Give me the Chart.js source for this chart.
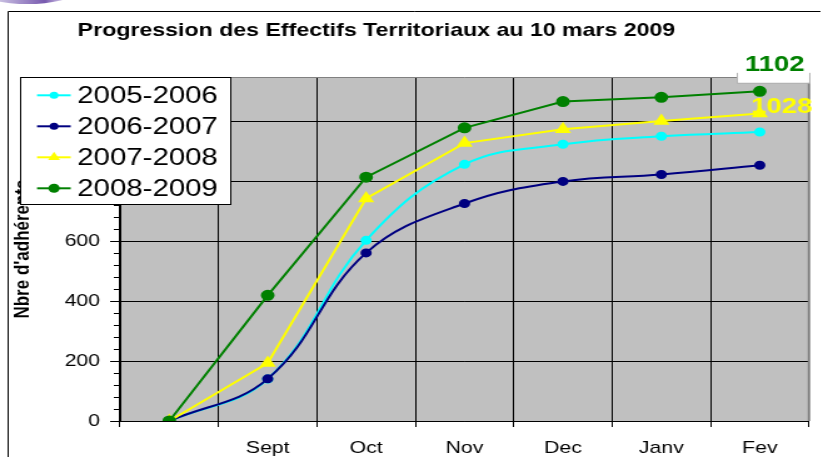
<!DOCTYPE html>
<html>
<head>
<meta charset="utf-8">
<script src="https://cdn.jsdelivr.net/npm/chart.js@4.4.1/dist/chart.umd.min.js"></script>
<style>
  html, body { margin: 0; padding: 0; background: #fff; overflow: hidden; width: 828px; height: 457px; }
  #wrap { position: absolute; left: 0; top: 0; width: 662px; height: 457px; transform: scaleX(1.250755); transform-origin: 0 0; }
  canvas { display: block; }
</style>
</head>
<body>
<div id="wrap"><canvas id="c" width="662" height="457"></canvas></div>
<script>
// ---- data ----
const categories = ['', 'Sept', 'Oct', 'Nov', 'Dec', 'Janv', 'Fev'];
const seriesNames = ['2005-2006', '2006-2007', '2007-2008', '2008-2009'];
const s2005_2006 = [0, 140, 604, 858, 925, 952, 966];
const s2006_2007 = [0, 141, 562, 727, 801, 824, 855];
const s2007_2008 = [0, 194, 744, 929, 975, 1003, 1028];
const s2008_2009 = [0, 420, 815, 980, 1068, 1082, 1102];
const yMajorTicks = [0, 200, 400, 600, 800, 1000];
const yMinorStep = 40;
const yMax = 1150;
const chartTitle = 'Progression des Effectifs Territoriaux au 10 mars 2009';
const yAxisTitle = "Nbre d'adhérents";

const FONT = "'Liberation Sans', Arial, Helvetica, sans-serif";

// minor + major tick values
const yTickValues = [];
for (let v = 0; v <= yMax; v += yMinorStep) yTickValues.push(v);
const isMajor = v => yMajorTicks.indexOf(v) !== -1;

const bgPlugin = {
  id: 'bg',
  beforeDraw(chart) {
    const ctx = chart.ctx, a = chart.chartArea;
    ctx.save();
    // decorative purple swoosh top-left
    const g = ctx.createLinearGradient(0, 0, 60, 0);
    g.addColorStop(0, 'rgba(200,190,225,1)');
    g.addColorStop(0.6, 'rgba(120,90,175,1)');
    g.addColorStop(1, 'rgba(150,120,200,0)');
    ctx.fillStyle = g;
    ctx.beginPath();
    ctx.ellipse(22, -7, 36, 11, 0, 0, Math.PI * 2);
    ctx.fill();
    // outer frame
    ctx.strokeStyle = '#000';
    ctx.lineWidth = 1;
    ctx.beginPath();
    ctx.moveTo(6.5, 460);
    ctx.lineTo(6.5, 11.5);
    ctx.lineTo(656, 11.5);
    ctx.stroke();
    // plot area fill
    ctx.fillStyle = '#C0C0C0';
    ctx.fillRect(a.left, a.top, a.right - a.left, a.bottom - a.top);
    ctx.restore();
  },
  beforeDatasetsDraw(chart) {
    const ctx = chart.ctx, a = chart.chartArea;
    ctx.save();
    ctx.strokeStyle = '#808080';
    ctx.lineWidth = 1;
    ctx.beginPath();
    ctx.moveTo(a.left, a.top + 0.5);
    ctx.lineTo(a.right, a.top + 0.5);
    ctx.stroke();
    ctx.lineWidth = 2;
    ctx.beginPath();
    ctx.moveTo(a.right, a.top);
    ctx.lineTo(a.right, a.bottom);
    ctx.stroke();
    ctx.restore();
  },
  afterDatasetsDraw(chart) {
    const ctx = chart.ctx;
    ctx.save();
    // label for 2008-2009 last value
    const gm = chart.getDatasetMeta(3);
    const gi = s2008_2009.length - 1;
    const gp = gm.data[gi];
    const bx = gp.x - 18.4, by = gp.y - 46, bw = 58.4, bh = 37.5;
    ctx.fillStyle = '#fff';
    ctx.fillRect(bx, by, bw, bh);
    ctx.strokeStyle = '#b0b0b0';
    ctx.lineWidth = 1;
    ctx.beginPath();
    ctx.moveTo(bx + 0.5, by + bh - 10);
    ctx.lineTo(bx + 0.5, by + bh + 0.5);
    ctx.lineTo(bx + bw, by + bh + 0.5);
    ctx.lineTo(bx + bw, by + bh - 10);
    ctx.stroke();
    ctx.font = 'bold 22px ' + FONT;
    ctx.textAlign = 'center';
    ctx.textBaseline = 'middle';
    ctx.fillStyle = '#008000';
    ctx.fillText(String(s2008_2009[gi]), gp.x + 12, gp.y - 26);
    // label for 2007-2008 last value
    const ym = chart.getDatasetMeta(2);
    const yi = s2007_2008.length - 1;
    const yp = ym.data[yi];
    ctx.fillStyle = '#FFFF00';
    ctx.fillText(String(s2007_2008[yi]), yp.x + 17.6, yp.y - 7);
    ctx.restore();
  },
  afterDraw(chart) {
    const ctx = chart.ctx;
    ctx.save();
    // title
    ctx.font = 'bold 18.5px ' + FONT;
    ctx.fillStyle = '#000';
    ctx.textAlign = 'center';
    ctx.textBaseline = 'middle';
    ctx.fillText(chartTitle, 301, 31);
    // legend box
    const L = { x: 16, y: 77, w: 168, h: 127 };
    ctx.fillStyle = '#fff';
    ctx.fillRect(L.x, L.y, L.w, L.h);
    ctx.strokeStyle = '#000';
    ctx.lineWidth = 1;
    ctx.strokeRect(L.x + 0.5, L.y + 0.5, L.w, L.h);
    chart.data.datasets.forEach((ds, i) => {
      const y = 95.3 + i * 31;
      ctx.strokeStyle = ds.borderColor;
      ctx.lineWidth = 2;
      ctx.beginPath();
      ctx.moveTo(29.6, y);
      ctx.lineTo(56.5, y);
      ctx.stroke();
      ctx.fillStyle = ds.backgroundColor;
      ctx.beginPath();
      const mx = 43.2, r = ds.pointRadius;
      if (ds.pointStyle === 'triangle') {
        ctx.moveTo(mx, y - r);
        ctx.lineTo(mx + r * 0.866, y + r * 0.5);
        ctx.lineTo(mx - r * 0.866, y + r * 0.5);
        ctx.closePath();
      } else {
        ctx.arc(mx, y, r, 0, Math.PI * 2);
      }
      ctx.fill();
      ctx.font = '23.5px ' + FONT;
      ctx.fillStyle = '#000';
      ctx.textAlign = 'left';
      ctx.textBaseline = 'middle';
      ctx.fillText(ds.label, 61.8, y + 1);
    });
    ctx.restore();
  }
};

new Chart(document.getElementById('c'), {
  type: 'line',
  data: {
    labels: categories,
    datasets: [
      { label: seriesNames[0], data: s2005_2006, borderColor: '#00FFFF', backgroundColor: '#00FFFF',
        borderWidth: 2, pointRadius: 3.5, pointStyle: 'circle', tension: 0.4, order: 4 },
      { label: seriesNames[1], data: s2006_2007, borderColor: '#000080', backgroundColor: '#000080',
        borderWidth: 2, pointRadius: 3.5, pointStyle: 'circle', tension: 0.4, order: 3 },
      { label: seriesNames[2], data: s2007_2008, borderColor: '#FFFF00', backgroundColor: '#FFFF00',
        borderWidth: 2, pointRadius: 5.5, pointStyle: 'triangle', tension: 0, order: 2 },
      { label: seriesNames[3], data: s2008_2009, borderColor: '#008000', backgroundColor: '#008000',
        borderWidth: 2, pointRadius: 4.5, pointStyle: 'circle', tension: 0, order: 1 }
    ]
  },
  options: {
    responsive: false,
    animation: false,
    events: [],
    layout: { padding: { left: 8, right: 15.2, top: 77, bottom: 0 } },
    plugins: { legend: { display: false }, title: { display: false }, tooltip: { enabled: false } },
    scales: {
      x: {
        type: 'category',
        offset: true,
        grid: { offset: true, color: '#000', lineWidth: 1, tickLength: 6, tickColor: '#000' },
        border: { color: '#000', width: 1 },
        ticks: { font: { family: FONT, size: 17 }, color: '#000', padding: 11, maxRotation: 0, autoSkip: false },
        afterFit: s => { s.height = 36; }
      },
      y: {
        min: 0,
        max: yMax,
        afterBuildTicks: s => { s.ticks = yTickValues.map(v => ({ value: v })); },
        grid: {
          color: c => (c.tick && isMajor(c.tick.value)) ? '#000' : 'rgba(0,0,0,0)',
          lineWidth: 1,
          tickColor: '#000',
          tickLength: 8,
          tickBorderDash: c => (c.tick && !isMajor(c.tick.value)) ? [5, 3] : [],
          tickBorderDashOffset: c => (c.tick && !isMajor(c.tick.value)) ? 5 : 0
        },
        border: { color: '#000', width: 1 },
        ticks: {
          font: { family: FONT, size: 17 }, color: '#000', padding: 8, autoSkip: false,
          callback: v => isMajor(v) ? String(v) : ''
        },
        title: { display: true, text: yAxisTitle, color: '#000', padding: 0,
                 font: { family: FONT, size: 17, weight: 'bold' } },
        afterFit: s => { s.width = 88; }
      }
    }
  },
  plugins: [bgPlugin]
});
</script>
</body>
</html>
